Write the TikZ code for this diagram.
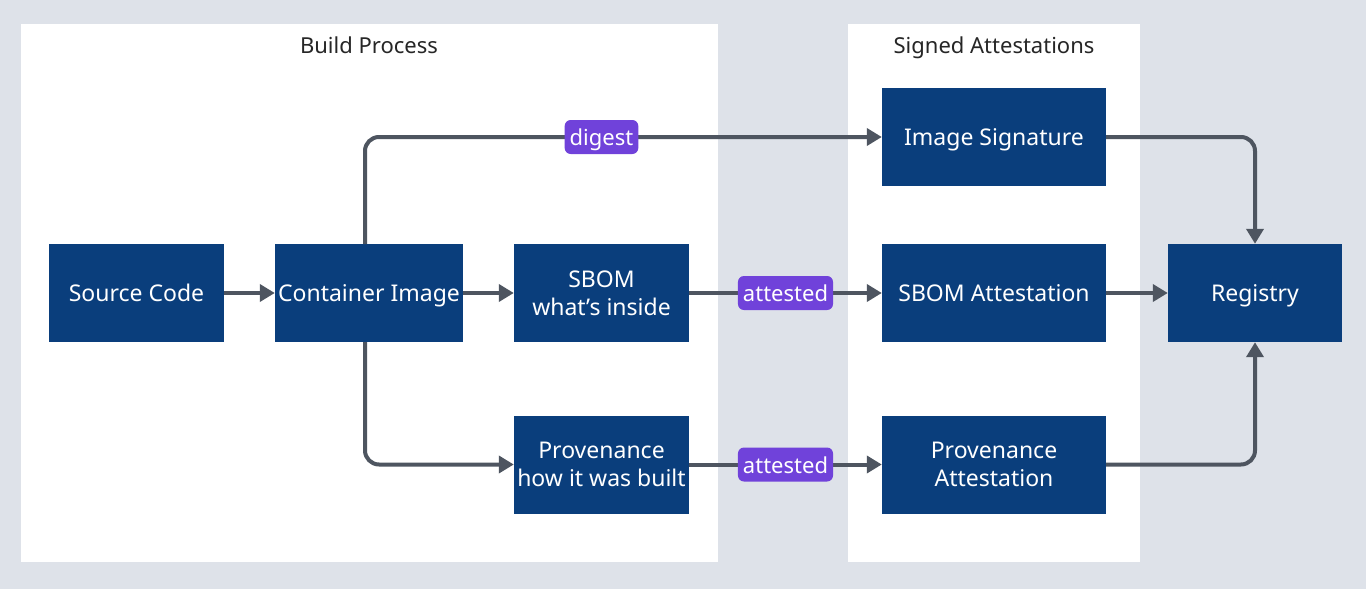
\documentclass[tikz,border=0pt]{standalone}
\usepackage{fontspec}
\setmainfont{Noto Sans}
\usetikzlibrary{arrows.meta}
\definecolor{bgc}{HTML}{DEE2E9}
\definecolor{boxc}{HTML}{0A3E7C}
\definecolor{arrc}{HTML}{4E5560}
\definecolor{labc}{HTML}{7042DA}
\tikzset{
  stepbox/.style={fill=boxc, text=white, minimum width=#1, minimum height=98pt, inner sep=0pt, align=center, font=\fontsize{23}{28}\selectfont},
  stepbox/.default=175pt,
  oneline/.style={text height=20pt, text depth=3pt},
  conn/.style={draw=arrc, line width=4pt, rounded corners=14pt, -{Triangle[length=15pt,width=17pt]}},
  lab/.style={fill=labc, text=white, rounded corners=6pt, inner xsep=5pt, inner ysep=0pt, minimum height=34pt, text height=19pt, text depth=2pt, font=\fontsize{22}{26}\selectfont},
  panel/.style={fill=white, draw=none},
  ttl/.style={font=\fontsize{22}{26}\selectfont, text=black!85, text height=19pt, text depth=2pt}
}
\begin{document}
\begin{tikzpicture}[x=1pt,y=-1pt]
\useasboundingbox (0,0) rectangle (1366,589);
\fill[bgc] (0,0) rectangle (1366,589);
\fill[panel] (21,24) rectangle (718,562);
\fill[panel] (848,24) rectangle (1140,562);
\node[ttl] (t1) at (369,45) {Build Process};
\node[ttl] (t2) at (994,45) {Signed Attestations};

\node[stepbox,oneline] (src) at (136.5,293) {Source Code};
\node[stepbox=188pt,oneline] (ci) at (369,293) {Container Image};
\node[stepbox] (sbom) at (601.5,293) {SBOM\\what's inside};
\node[stepbox] (prov) at (601.5,464.5) {Provenance\\how it was built};
\node[stepbox=224pt,oneline] (sig) at (994,137) {Image Signature};
\node[stepbox=224pt,oneline] (sbat) at (994,293) {SBOM Attestation};
\node[stepbox=224pt] (prat) at (994,464.5) {Provenance\\Attestation};
\node[stepbox=174pt,oneline] (reg) at (1255,293) {Registry};

\coordinate (ctop) at (365,244);
\coordinate (cbot) at (365,342);

\draw[conn] (src) -- (ci);
\draw[conn] (ci) -- (sbom);
\draw[conn] (ctop) |- (sig.west);
\draw[conn] (cbot) |- (prov.west);
\draw[conn] (sbom) -- (sbat);
\draw[conn] (prov) -- (prat);
\draw[conn] (sbat) -- (reg);
\draw[conn] (sig.east) -| (reg.north);
\draw[conn] (prat.east) -| (reg.south);

\node[lab] (dg) at (601.5,137) {digest};
\node[lab] (a1) at (785.5,293) {attested};
\node[lab] (a2) at (785.5,464.5) {attested};
\end{tikzpicture}
\end{document}
